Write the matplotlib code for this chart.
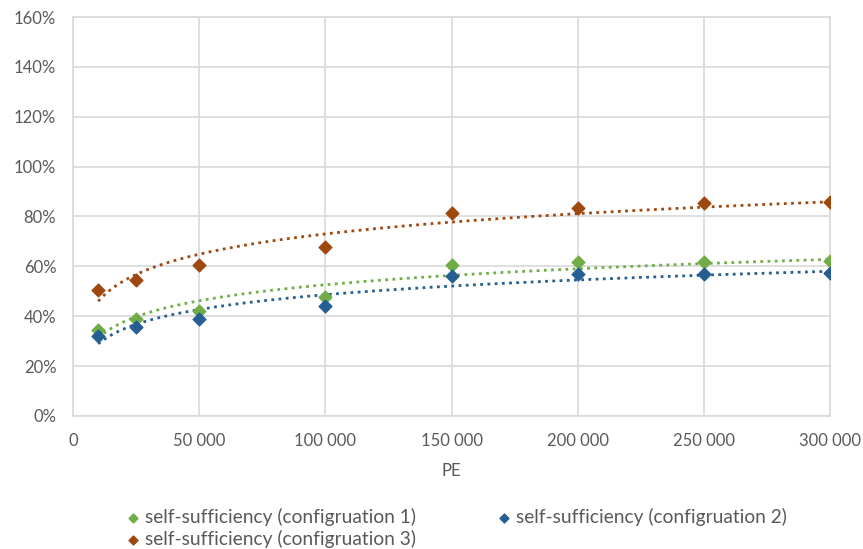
import numpy as np
import matplotlib.pyplot as plt
from matplotlib.ticker import FuncFormatter, MultipleLocator

pe = [10000, 25000, 50000, 100000, 150000, 200000, 250000, 300000]
conf1 = [0.345, 0.389, 0.421, 0.478, 0.605, 0.616, 0.616, 0.623]
conf2 = [0.320, 0.358, 0.389, 0.440, 0.562, 0.568, 0.570, 0.575]
conf3 = [0.505, 0.545, 0.605, 0.679, 0.815, 0.833, 0.853, 0.857]

# spelling kept as in the original chart
labels = ["self-sufficiency (configruation 1)",
          "self-sufficiency (configruation 2)",
          "self-sufficiency (configruation 3)"]
colors = ["#70AD47", "#255E91", "#9E480E"]

plt.rcParams["font.family"] = ["Lato", "DejaVu Sans"]
grey = "#595959"

fig = plt.figure(figsize=(8.63, 5.49), dpi=100)
ax = fig.add_axes([0.0846, 0.2423, 0.8774, 0.7267])

x = np.array(pe, dtype=float)
xs = np.linspace(x.min(), x.max(), 300)
handles = []
for ys, c, lab in zip([conf1, conf2, conf3], colors, labels):
    # logarithmic trend line like Excel
    a, b = np.polyfit(np.log(x), ys, 1)
    ax.plot(xs, a * np.log(xs) + b, ls=(0, (1, 1.6)), lw=2, color=c, zorder=2)
    h = ax.scatter(x, ys, marker="D", s=42, color=c, zorder=3, label=lab)
    handles.append(h)

ax.set_xlim(0, 300000)
ax.set_ylim(0, 1.6)
ax.xaxis.set_major_locator(MultipleLocator(50000))
ax.yaxis.set_major_locator(MultipleLocator(0.2))
ax.xaxis.set_major_formatter(FuncFormatter(lambda v, p: f"{int(v):,}".replace(",", " ")))
ax.yaxis.set_major_formatter(FuncFormatter(lambda v, p: f"{v * 100:.0f}%"))
ax.grid(True, color="#D9D9D9", lw=1.2)
ax.set_axisbelow(True)
for s in ax.spines.values():
    s.set_color("#D9D9D9")
    s.set_linewidth(1.2)
ax.tick_params(length=0, labelsize=12, labelcolor=grey, pad=12)
ax.set_xlabel("PE", fontsize=12, color=grey, labelpad=10)

fig.legend([handles[0], handles[2], handles[1]],
           [labels[0], labels[2], labels[1]],
           ncol=2, loc="center left", bbox_to_anchor=(0.128, 0.039),
           frameon=False, fontsize=13.8, labelcolor=grey, borderpad=0.2,
           handletextpad=0.1, columnspacing=4.1, labelspacing=0.2,
           markerscale=0.7, handlelength=1.0)

fig.savefig("out.png", dpi=100)
